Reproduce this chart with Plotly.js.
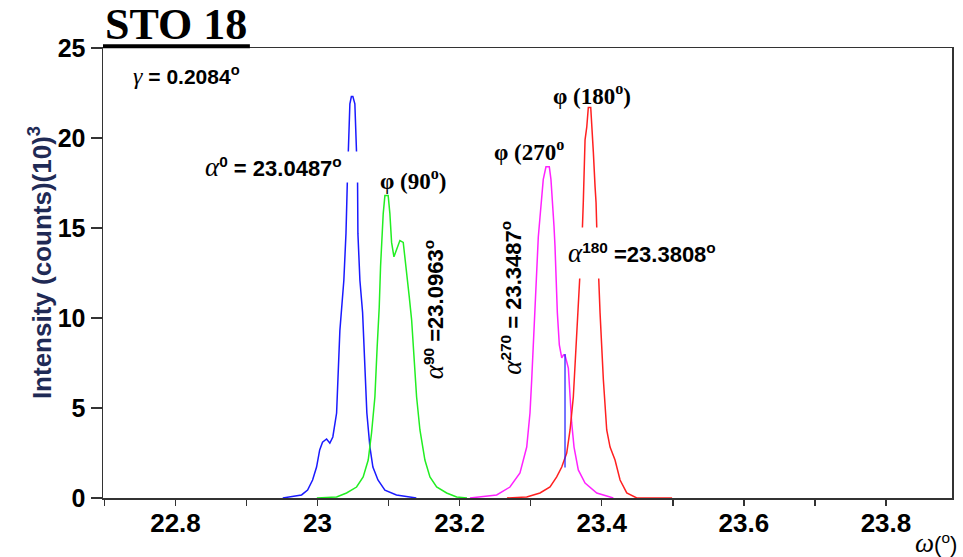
<!DOCTYPE html>
<html>
<head>
<meta charset="utf-8">
<script src="https://cdn.plot.ly/plotly-3.0.1.min.js"></script>
<style>html,body{margin:0;padding:0;background:#fff;}#chart{width:963px;height:557px;}</style>
</head>
<body>
<div id="chart"></div>
<script>
// ---- data (omega in degrees, intensity in 10^3 counts) ----
const phi0X = [22.951, 22.9775, 22.986, 22.993, 22.9986, 23.003, 23.007, 23.0127, 23.0173, 23.0215, 23.0268, 23.0286, 23.0314, 23.037, 23.040, 23.042, 23.0437, 23.0455, 23.0476, 23.0497, 23.0525, 23.0554, 23.0563, 23.0568, 23.0596, 23.0634, 23.0666, 23.0694, 23.0737, 23.0779, 23.085, 23.0948, 23.111, 23.139];
const phi0Y = [0, 0.17, 0.44, 1.0, 1.72, 2.67, 3.1, 3.28, 3.05, 3.39, 4.72, 6.56, 9.3, 12.1, 14.7, 17.7, 19.3, 21.9, 22.3, 22.3, 21.9, 19.2, 17.55, 14.7, 12.1, 10.3, 7.5, 4.72, 2.83, 1.72, 1.0, 0.44, 0.17, 0];

const phi90X = [22.999, 23.0268, 23.0408, 23.0549, 23.0642, 23.0713, 23.076, 23.0807, 23.0839, 23.0868, 23.0887, 23.0901, 23.0924, 23.0948, 23.0994, 23.1018, 23.1042, 23.1075, 23.1113, 23.1159, 23.1206, 23.123, 23.1254, 23.129, 23.1324, 23.1346, 23.1394, 23.1441, 23.1511, 23.1582, 23.1676, 23.1817, 23.1958, 23.2103];
const phi90Y = [0, 0.06, 0.28, 0.61, 1.17, 2.11, 3.61, 5.61, 8.4, 10.6, 12.9, 14.1, 15.8, 16.8, 16.8, 15.8, 14.2, 13.4, 13.8, 14.3, 14.2, 13.4, 12.5, 11.2, 9.9, 8.4, 5.61, 3.78, 2.11, 1.17, 0.61, 0.28, 0.06, 0];

const phi270X = [23.2145, 23.2521, 23.2708, 23.2849, 23.2944, 23.299, 23.3014, 23.3037, 23.3061, 23.3085, 23.3107, 23.3131, 23.3155, 23.3177, 23.3215, 23.3262, 23.3285, 23.331, 23.3328, 23.3342, 23.3356, 23.3375, 23.3403, 23.3437, 23.3462, 23.3483, 23.353, 23.3554, 23.3577, 23.361, 23.367, 23.3765, 23.393, 23.4163];
const phi270Y = [0, 0.17, 0.61, 1.39, 2.83, 4.72, 6.56, 8.5, 10.3, 12.1, 14.5, 15.6, 16.7, 17.7, 18.4, 18.4, 17.7, 16.4, 15.1, 14.0, 12.1, 10.3, 8.5, 7.78, 7.95, 7.94, 7.22, 5.61, 4.17, 2.83, 1.56, 0.83, 0.28, 0];

const phi180X = [23.2666, 23.2944, 23.3131, 23.3272, 23.3366, 23.3437, 23.3507, 23.3554, 23.360, 23.3638, 23.367, 23.3694, 23.3727, 23.3741, 23.3755, 23.3765, 23.3789, 23.3811, 23.3845, 23.3868, 23.3882, 23.3906, 23.392, 23.393, 23.3952, 23.3976, 23.4023, 23.407, 23.4117, 23.4187, 23.4258, 23.4352, 23.4493, 23.499];
const phi180Y = [0, 0.06, 0.28, 0.61, 1.17, 1.72, 2.50, 3.78, 5.61, 8.5, 10.3, 12.1, 14.9, 16.5, 18.2, 19.9, 20.6, 21.7, 21.7, 20.4, 19.2, 17.3, 16.4, 15.0, 12.1, 10.3, 6.56, 3.78, 2.83, 2.11, 1.0, 0.28, 0, 0];

const blueSpikeX = [23.3483, 23.3483];
const blueSpikeY = [1.7, 8.0];

const xTickStep = 0.2;
const yTickStep = 5;

// ---- drawing ----
const lw = 1.5;
const traces = [
  {x: phi0X, y: phi0Y, mode: 'lines', line: {color: '#1a1aff', width: lw}},
  {x: phi90X, y: phi90Y, mode: 'lines', line: {color: '#22ee22', width: lw}},
  {x: phi270X, y: phi270Y, mode: 'lines', line: {color: '#ff22ff', width: lw}},
  {x: phi180X, y: phi180Y, mode: 'lines', line: {color: '#ff2020', width: lw}},
  {x: blueSpikeX, y: blueSpikeY, mode: 'lines', line: {color: '#1a1aff', width: 1.2}}
];

const serifI = 'font-family:Liberation Serif;font-style:italic;font-weight:normal';
const sansB = 'font-family:Liberation Sans;font-weight:bold';
const serifB = 'font-family:Liberation Serif;font-weight:bold';
const alpha = '<span style="' + serifI + ';font-size:27px">α</span>';

const ann = (o) => Object.assign({showarrow: false, xref: 'x', yref: 'y', xanchor: 'center', yanchor: 'middle',
  font: {family: 'Liberation Sans', size: 22, color: '#000'}}, o);

const annotations = [
  ann({xref: 'paper', yref: 'paper', x: 0.0854, y: 1.053,
       text: 'STO 18', font: {family: 'Liberation Serif', size: 44, color: '#000', weight: 'bold'}}),
  ann({xref: 'paper', yref: 'paper', x: -0.0742, y: 0.522, textangle: -90,
       text: 'Intensity (counts)(10)<sup>3</sup>',
       font: {family: 'Liberation Sans', size: 26, color: '#1f2a55', weight: 'bold'}}),
  ann({x: 22.8152, y: 23.5, text: '<span style="' + serifI + ';font-size:24px">γ</span><span style="' + sansB + ';font-size:21px"> = 0.2084<sup>o</sup></span>'}),
  ann({x: 22.9504, y: 18.39, width: 155, height: 30, align: 'left', bgcolor: '#ffffff', borderpad: 0,
       text: alpha + '<span style="' + sansB + '"><sup>0</sup> = 23.0487<sup>o</sup></span>'}),
  ann({x: 23.1342, y: 17.67, text: '<span style="' + serifB + ';font-size:23px">φ (90<sup>o</sup>)</span>'}),
  ann({x: 23.164, y: 10.44, textangle: -90,
       text: alpha + '<span style="' + sansB + '"><sup>90</sup> =23.0963<sup>o</sup></span>'}),
  ann({x: 23.2976, y: 19.33, text: '<span style="' + serifB + ';font-size:23px">φ (270<sup>o</sup></span>'}),
  ann({x: 23.3863, y: 22.44, text: '<span style="' + serifB + ';font-size:23px">φ (180<sup>o</sup>)</span>'}),
  ann({x: 23.274, y: 11.14, textangle: -90,
       text: alpha + '<span style="' + sansB + '"><sup>270</sup> = 23.3487<sup>o</sup></span>'}),
  ann({x: 23.4723, y: 13.61, width: 170, height: 50, align: 'left', bgcolor: '#ffffff', borderpad: 0,
       text: alpha + '<span style="' + sansB + '"><sup>180</sup> =23.3808<sup>o</sup></span>'}),
  ann({xref: 'paper', yref: 'paper', x: 0.981, y: -0.1,
       text: '<span style="' + serifI + ';font-size:27px">ω</span><span style="font-family:Liberation Sans;font-size:22px">(<sup>o</sup>)</span>'})
];

const layout = {
  width: 963, height: 557,
  margin: {l: 103, r: 11, t: 48, b: 59},
  paper_bgcolor: '#fff', plot_bgcolor: '#fff',
  showlegend: false,
  xaxis: {
    range: [22.698, 23.893], tick0: 0, dtick: xTickStep,
    ticks: 'outside', ticklen: 6, tickwidth: 1.5, tickcolor: '#333',
    minor: {dtick: xTickStep / 2, ticks: 'outside', ticklen: 6, tickwidth: 1.5, tickcolor: '#333', showgrid: false},
    showgrid: false, zeroline: false,
    showline: true, mirror: true, linecolor: '#333', linewidth: 1.5,
    ticklabelstandoff: -5,
    tickfont: {family: 'Liberation Sans', size: 26, color: '#000', weight: 'bold'}
  },
  yaxis: {
    range: [0, 25], tick0: 0, dtick: yTickStep,
    ticks: 'outside', ticklen: 11, tickwidth: 1.5, tickcolor: '#333',
    showgrid: false, zeroline: false,
    showline: true, mirror: true, linecolor: '#333', linewidth: 1.5,
    tickfont: {family: 'Liberation Sans', size: 25, color: '#000', weight: 'bold'}
  },
  shapes: [
    {type: 'line', xref: 'paper', yref: 'paper', x0: 0, x1: 0.173, y0: 1.004, y1: 1.004, line: {color: '#000', width: 4}}
  ],
  annotations: annotations
};

Plotly.newPlot('chart', traces, layout, {displayModeBar: false, staticPlot: true});
</script>
</body>
</html>
